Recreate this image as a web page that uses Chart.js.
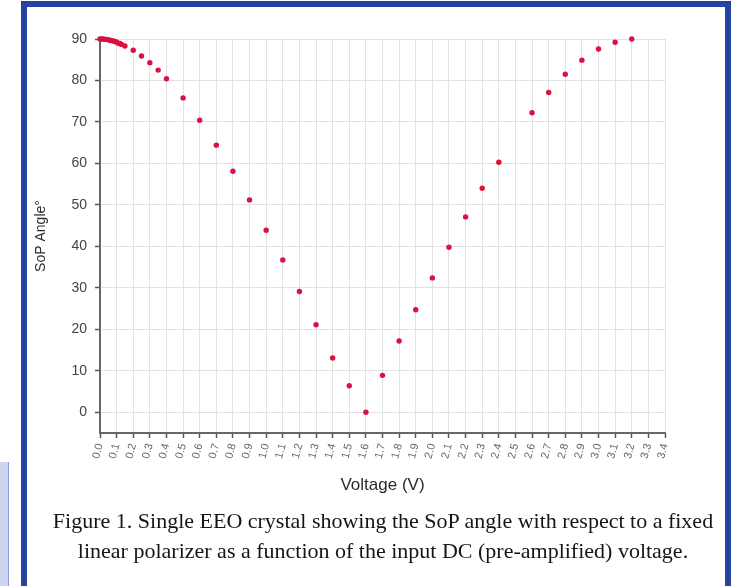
<!DOCTYPE html>
<html><head><meta charset="utf-8">
<script src="https://cdn.jsdelivr.net/npm/chart.js@4/dist/chart.umd.min.js"></script>
<style>
html,body{margin:0;padding:0;background:#fff;width:731px;height:586px;overflow:hidden;position:relative}
#frame{position:absolute;left:21px;top:1px;width:698px;height:600px;border:6px solid #2542a0;border-bottom:none;background:#fff}
#strip{position:absolute;left:0;top:462px;width:8px;height:124px;background:#cdd5f0;border-right:1px solid #8e9fd6}
#wrap{position:absolute;left:0;top:0;width:731px;height:586px}
#caption{position:absolute;left:27px;top:506px;width:712px;text-align:center;font-family:"Liberation Serif","Times New Roman",serif;font-size:22px;line-height:30px;color:#151515;white-space:nowrap}
</style></head>
<body>
<div id="strip"></div>
<div id="frame"></div>
<div id="wrap"><canvas id="c" width="731" height="586"></canvas></div>
<div id="caption">Figure 1. Single EEO crystal showing the SoP angle with respect to a fixed<br>linear polarizer as a function of the input DC (pre-amplified) voltage.</div>
<script>
const voltages = [0.00,0.01,0.02,0.03,0.04,0.05,0.06,0.07,0.08,0.09,0.10,0.11,0.12,0.13,
  0.15,0.2,0.25,0.3,0.35,0.4,0.5,0.6,0.7,0.8,0.9,1.0,1.1,1.2,1.3,1.4,1.5,1.6,1.7,1.8,1.9,
  2.0,2.1,2.2,2.3,2.4,2.6,2.7,2.8,2.9,3.0,3.1,3.2];
const angles = [90.0,90.0,90.0,89.9,89.9,89.8,89.7,89.6,89.5,89.4,89.2,89.0,88.9,88.7,
  88.3,87.3,85.9,84.3,82.5,80.4,75.8,70.4,64.4,58.1,51.2,43.9,36.7,29.1,21.1,13.1,6.4,0.0,8.9,17.2,24.7,
  32.4,39.8,47.1,54.0,60.3,72.2,77.1,81.5,84.9,87.6,89.2,90.0];
const xTickValues = [0.0,0.1,0.2,0.3,0.4,0.5,0.6,0.7,0.8,0.9,1.0,1.1,1.2,1.3,1.4,1.5,1.6,1.7,
  1.8,1.9,2.0,2.1,2.2,2.3,2.4,2.5,2.6,2.7,2.8,2.9,3.0,3.1,3.2,3.3,3.4];
const yTickValues = [0,10,20,30,40,50,60,70,80,90];
const xTitle = 'Voltage (V)';
const yTitle = 'SoP Angle°';

const pts = voltages.map((v,i)=>({x:v,y:angles[i]}));

new Chart(document.getElementById('c'), {
  type: 'scatter',
  data: { datasets: [{
    data: pts,
    backgroundColor: '#d9123f',
    borderColor: '#d9123f',
    pointRadius: 2.7,
    pointBorderWidth: 0,
    clip: false
  }]},
  options: {
    responsive: false,
    animation: false,
    events: [],
    layout: { padding: { left: 27, top: 39, right: 66, bottom: 83 } },
    plugins: { legend: { display: false }, tooltip: { enabled: false } },
    scales: {
      x: {
        type: 'linear', min: 0, max: 3.4,
        afterBuildTicks: s => { s.ticks = xTickValues.map(v => ({value: v})); },
        afterFit: s => { s.height = 70; },
        grid: { color: '#e2e2e2', lineWidth: 1, tickLength: 5, tickColor: '#555', tickWidth: 1.5 },
        border: { color: '#666', width: 2 },
        ticks: {
          autoSkip: false, minRotation: 75, maxRotation: 75, padding: 4,
          color: '#666', font: { family: 'Liberation Sans', size: 11 },
          callback: v => Number(v).toFixed(1)
        },
        title: { display: true, text: xTitle, color: '#2a2a2a', padding: { top: 0, bottom: 7 },
          font: { family: 'Liberation Sans', size: 17 } }
      },
      y: {
        type: 'linear', min: -5, max: 90,
        afterBuildTicks: s => { s.ticks = yTickValues.map(v => ({value: v})); },
        afterFit: s => { s.width = 73; },
        grid: { color: '#e2e2e2', lineWidth: 1, tickLength: 5, tickColor: '#555', tickWidth: 1.5 },
        border: { color: '#666', width: 2 },
        ticks: { padding: 8, color: '#444', font: { family: 'Liberation Sans', size: 14 } },
        title: { display: true, text: yTitle, color: '#2a2a2a', padding: { top: 6, bottom: 0 },
          font: { family: 'Liberation Sans', size: 14 } }
      }
    }
  }
});
</script>
</body></html>
